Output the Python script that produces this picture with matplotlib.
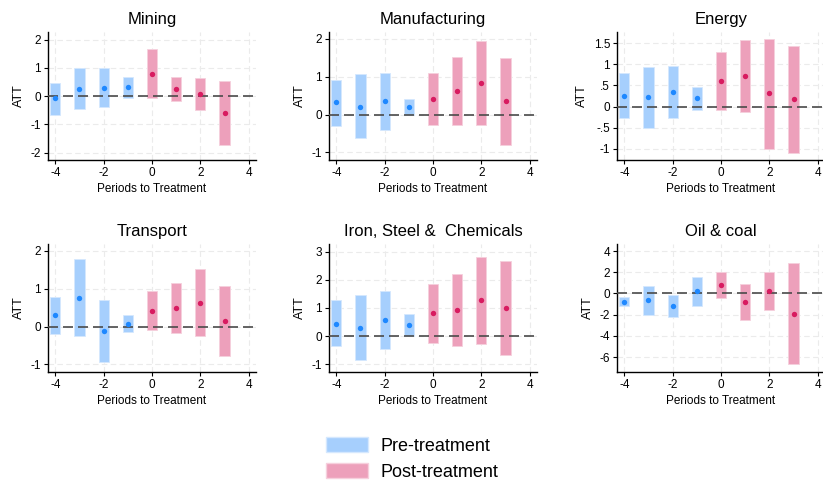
import numpy as np
import matplotlib.pyplot as plt
from matplotlib.patches import Patch

plt.rcParams['font.family'] = ['Liberation Sans', 'DejaVu Sans']
plt.rcParams['axes.unicode_minus'] = False

periods = [-4, -3, -2, -1, 0, 1, 2, 3]

titles = ["Mining", "Manufacturing", "Energy",
          "Transport", "Iron, Steel &  Chemicals", "Oil & coal"]

# point estimates, lower and upper CI bounds per sector
mining_att = [-0.08, 0.24, 0.29, 0.31, 0.80, 0.24, 0.07, -0.58]
mining_lo = [-0.67, -0.47, -0.38, -0.06, -0.08, -0.16, -0.49, -1.72]
mining_hi = [0.48, 0.98, 0.98, 0.66, 1.66, 0.66, 0.64, 0.55]

manuf_att = [0.32, 0.21, 0.35, 0.21, 0.42, 0.63, 0.84, 0.35]
manuf_lo = [-0.29, -0.63, -0.42, 0.0, -0.27, -0.27, -0.28, -0.80]
manuf_hi = [0.92, 1.07, 1.11, 0.40, 1.11, 1.52, 1.94, 1.49]

energy_att = [0.26, 0.22, 0.34, 0.20, 0.60, 0.73, 0.31, 0.17]
energy_lo = [-0.26, -0.50, -0.28, -0.08, -0.09, -0.12, -0.99, -1.09]
energy_hi = [0.80, 0.93, 0.96, 0.47, 1.29, 1.58, 1.59, 1.44]

transp_att = [0.30, 0.76, -0.11, 0.08, 0.42, 0.48, 0.63, 0.15]
transp_lo = [-0.19, -0.26, -0.94, -0.15, -0.08, -0.18, -0.26, -0.78]
transp_hi = [0.79, 1.79, 0.71, 0.31, 0.93, 1.14, 1.52, 1.08]

iron_att = [0.45, 0.29, 0.59, 0.41, 0.81, 0.93, 1.28, 0.99]
iron_lo = [-0.36, -0.85, -0.44, 0.0, -0.24, -0.34, -0.27, -0.68]
iron_hi = [1.27, 1.45, 1.62, 0.79, 1.86, 2.21, 2.82, 2.67]

oil_att = [-0.78, -0.66, -1.16, 0.22, 0.81, -0.78, 0.25, -1.91]
oil_lo = [-1.22, -2.06, -2.25, -1.19, -0.44, -2.50, -1.56, -6.66]
oil_hi = [-0.31, 0.66, -0.12, 1.56, 2.06, 0.91, 2.03, 2.91]

atts = [mining_att, manuf_att, energy_att, transp_att, iron_att, oil_att]
los = [mining_lo, manuf_lo, energy_lo, transp_lo, iron_lo, oil_lo]
his = [mining_hi, manuf_hi, energy_hi, transp_hi, iron_hi, oil_hi]

yticks = [[-2, -1, 0, 1, 2], [-1, 0, 1, 2], [-1, -0.5, 0, 0.5, 1, 1.5],
          [-1, 0, 1, 2], [-1, 0, 1, 2, 3], [-6, -4, -2, 0, 2, 4]]
yticklabels = [None, None, ["-1", "-.5", "0", ".5", "1", "1.5"], None, None, None]
ylims = [(-2.26, 2.27), (-1.2, 2.18), (-1.26, 1.76),
         (-1.2, 2.18), (-1.27, 3.27), (-7.4, 4.66)]

pre_bar = "#a6cffd"
post_bar = "#eda0bb"
pre_pt = "#1e88ff"
post_pt = "#d81b60"

W, H = 823, 480
fig = plt.figure(figsize=(W / 100, H / 100), dpi=100)

lefts = [48, 329, 617]
width = 208
tops = [32, 244]
height = 128

for k in range(6):
    r, c = divmod(k, 3)
    ax = fig.add_axes([lefts[c] / W, 1 - (tops[r] + height) / H, width / W, height / H])
    x = np.array(periods)
    lo = np.array(los[k])
    hi = np.array(his[k])
    att = np.array(atts[k])
    pre = x < 0
    post = x >= 0
    ax.bar(x[pre], hi[pre] - lo[pre], bottom=lo[pre], width=0.42,
           color=pre_bar, edgecolor="#d5e8fe", linewidth=0.6, zorder=2)
    ax.bar(x[post], hi[post] - lo[post], bottom=lo[post], width=0.42,
           color=post_bar, edgecolor="#f6d0dd", linewidth=0.6, zorder=2)
    ax.axhline(0, color="#4a4a4a", linestyle=(0, (6, 3)), linewidth=1.2, zorder=3)
    ax.scatter(x[pre], att[pre], s=15, color=pre_pt, zorder=4, linewidths=0)
    ax.scatter(x[post], att[post], s=15, color=post_pt, zorder=4, linewidths=0)

    ax.set_xlim(-4.3, 4.3)
    ax.set_ylim(*ylims[k])
    ax.set_xticks([-4, -2, 0, 2, 4])
    ax.set_yticks(yticks[k])
    if yticklabels[k] is not None:
        ax.set_yticklabels(yticklabels[k])
    ax.grid(True, color="#ebebeb", linestyle=(0, (5, 3)), linewidth=0.8, zorder=0)
    ax.set_axisbelow(True)
    for s in ["top", "right"]:
        ax.spines[s].set_visible(False)
    ax.spines["left"].set_linewidth(1.0)
    ax.spines["bottom"].set_linewidth(1.0)
    ax.tick_params(labelsize=8.5, length=3, width=0.8, pad=2)
    ax.set_title(titles[k], fontsize=12, pad=6)
    ax.set_xlabel("Periods to Treatment", fontsize=8.5, labelpad=3)
    ax.set_ylabel("ATT", fontsize=9, labelpad=4)

handles = [Patch(facecolor=pre_bar, edgecolor="#d5e8fe"),
           Patch(facecolor=post_bar, edgecolor="#f6d0dd")]
fig.legend(handles, ["Pre-treatment", "Post-treatment"], loc="center",
           bbox_to_anchor=(412 / W, 1 - 459 / H), frameon=False, fontsize=13,
           handlelength=2.3, handleheight=0.9, labelspacing=0.45, handletextpad=0.7)

fig.savefig("out.png", dpi=100)
